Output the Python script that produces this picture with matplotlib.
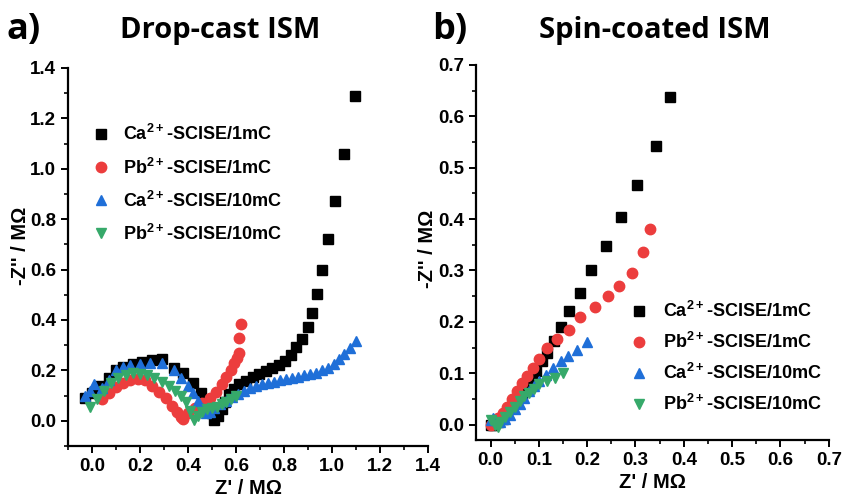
import matplotlib.pyplot as plt
from matplotlib.ticker import MultipleLocator

# panel a: drop-cast ISM
a_ca1_x = [-0.03, 0.0, 0.03, 0.07, 0.10, 0.13, 0.17, 0.21, 0.25, 0.29, 0.34, 0.38, 0.42, 0.455, 0.48, 0.50,
           0.51, 0.525, 0.54, 0.555, 0.572, 0.593, 0.614, 0.641, 0.669, 0.697, 0.724, 0.752, 0.779, 0.803,
           0.828, 0.852, 0.876, 0.898, 0.917, 0.938, 0.960, 0.983, 1.014, 1.052, 1.094]
a_ca1_y = [0.09, 0.11, 0.14, 0.17, 0.20, 0.215, 0.225, 0.235, 0.24, 0.245, 0.21, 0.19, 0.15, 0.11, 0.07, 0.03,
           0.005, 0.02, 0.045, 0.075, 0.105, 0.125, 0.145, 0.158, 0.172, 0.185, 0.196, 0.209, 0.222, 0.238,
           0.262, 0.291, 0.326, 0.371, 0.429, 0.502, 0.600, 0.722, 0.871, 1.057, 1.287]
a_pb1_x = [0.04, 0.07, 0.10, 0.13, 0.16, 0.19, 0.22, 0.25, 0.28, 0.31, 0.335, 0.355, 0.37, 0.38, 0.40, 0.43,
           0.46, 0.49, 0.515, 0.54, 0.56, 0.578, 0.593, 0.605, 0.611, 0.614, 0.62]
a_pb1_y = [0.085, 0.11, 0.135, 0.15, 0.16, 0.165, 0.16, 0.14, 0.115, 0.09, 0.06, 0.035, 0.015, 0.008, 0.03,
           0.05, 0.07, 0.09, 0.115, 0.145, 0.175, 0.20, 0.23, 0.25, 0.27, 0.33, 0.385]
a_ca10_x = [-0.03, -0.01, 0.01, 0.04, 0.07, 0.10, 0.13, 0.16, 0.20, 0.24, 0.29, 0.34, 0.37, 0.40, 0.42, 0.44,
            0.46, 0.475, 0.49, 0.51, 0.535, 0.56, 0.585, 0.61, 0.635, 0.66, 0.685, 0.71, 0.735, 0.76, 0.785,
            0.81, 0.835, 0.86, 0.885, 0.91, 0.935, 0.96, 0.985, 1.01, 1.03, 1.05, 1.075, 1.10]
a_ca10_y = [0.10, 0.12, 0.145, 0.13, 0.16, 0.20, 0.215, 0.22, 0.225, 0.23, 0.23, 0.20, 0.17, 0.14, 0.11, 0.08,
            0.05, 0.03, 0.035, 0.05, 0.065, 0.08, 0.095, 0.105, 0.12, 0.13, 0.14, 0.145, 0.15, 0.155, 0.16,
            0.165, 0.17, 0.175, 0.18, 0.185, 0.19, 0.20, 0.21, 0.225, 0.245, 0.265, 0.29, 0.315]
a_pb10_x = [-0.01, 0.02, 0.05, 0.08, 0.11, 0.14, 0.17, 0.20, 0.23, 0.26, 0.29, 0.32, 0.345, 0.37, 0.39, 0.41,
            0.425, 0.44, 0.46, 0.48, 0.50, 0.52, 0.54, 0.56, 0.58, 0.60]
a_pb10_y = [0.055, 0.085, 0.12, 0.15, 0.17, 0.18, 0.19, 0.185, 0.18, 0.17, 0.155, 0.14, 0.12, 0.10, 0.075,
            0.04, 0.005, 0.02, 0.035, 0.045, 0.05, 0.055, 0.065, 0.075, 0.085, 0.10]

# panel b: spin-coated ISM
b_ca1_x = [0.0, 0.005, 0.015, 0.025, 0.035, 0.045, 0.055, 0.065, 0.075, 0.085, 0.095, 0.107, 0.117, 0.131,
           0.145, 0.163, 0.185, 0.208, 0.239, 0.271, 0.303, 0.342, 0.371]
b_ca1_y = [0.0, 0.0, 0.005, 0.01, 0.02, 0.032, 0.045, 0.06, 0.075, 0.09, 0.105, 0.123, 0.139, 0.162,
           0.19, 0.222, 0.257, 0.301, 0.347, 0.405, 0.467, 0.542, 0.638]
b_pb1_x = [0.0, 0.008, 0.015, 0.025, 0.035, 0.045, 0.055, 0.065, 0.075, 0.087, 0.100, 0.117, 0.138, 0.162,
           0.186, 0.216, 0.243, 0.266, 0.292, 0.316, 0.329]
b_pb1_y = [0.0, 0.005, 0.012, 0.022, 0.035, 0.05, 0.065, 0.08, 0.095, 0.110, 0.128, 0.150, 0.167, 0.185,
           0.209, 0.228, 0.25, 0.27, 0.296, 0.335, 0.381]
b_ca10_x = [0.0, 0.005, 0.01, 0.02, 0.03, 0.04, 0.05, 0.06, 0.07, 0.08, 0.09, 0.10, 0.114, 0.13, 0.145,
            0.16, 0.179, 0.2]
b_ca10_y = [0.008, 0.012, 0.008, 0.005, 0.01, 0.018, 0.03, 0.04, 0.052, 0.065, 0.075, 0.085, 0.097, 0.11,
            0.123, 0.134, 0.146, 0.16]
b_pb10_x = [0.0, 0.01, 0.015, 0.02, 0.03, 0.04, 0.05, 0.06, 0.07, 0.08, 0.09, 0.1, 0.117, 0.134, 0.151]
b_pb10_y = [0.008, 0.0, -0.005, 0.005, 0.015, 0.025, 0.035, 0.045, 0.055, 0.062, 0.07, 0.078, 0.084, 0.091, 0.1]

labels = ['Ca$^{2+}$-SCISE/1mC', 'Pb$^{2+}$-SCISE/1mC', 'Ca$^{2+}$-SCISE/10mC', 'Pb$^{2+}$-SCISE/10mC']
colors = ['black', '#ec3d3d', '#1f6fd8', '#36a96a']
markers = ['s', 'o', '^', 'v']

plt.rcParams['font.family'] = ['Liberation Sans', 'DejaVu Sans']
plt.rcParams['font.weight'] = 'bold'
plt.rcParams['mathtext.default'] = 'regular'

fig = plt.figure(figsize=(8.44, 5.01), dpi=100)
ax1 = fig.add_axes([0.0806, 0.1098, 0.4265, 0.7545])
ax2 = fig.add_axes([0.564, 0.1218, 0.418, 0.7485])

data_a = [(a_ca1_x, a_ca1_y), (a_pb1_x, a_pb1_y), (a_ca10_x, a_ca10_y), (a_pb10_x, a_pb10_y)]
data_b = [(b_ca1_x, b_ca1_y), (b_pb1_x, b_pb1_y), (b_ca10_x, b_ca10_y), (b_pb10_x, b_pb10_y)]

for ax, data in [(ax1, data_a), (ax2, data_b)]:
    for (x, y), c, m, lab in zip(data, colors, markers, labels):
        ax.plot(x, y, linestyle='none', marker=m, color=c, markersize=7.5, label=lab)
    for s in ['top', 'right']:
        ax.spines[s].set_visible(False)
    for s in ['left', 'bottom']:
        ax.spines[s].set_linewidth(1.6)
    ax.tick_params(which='major', direction='out', length=5, width=1.4)
    ax.tick_params(which='minor', direction='out', length=3, width=1.2)

ax1.set_xlim(-0.1, 1.4)
ax1.set_ylim(-0.1, 1.4)
ax1.set_xticks([0.0, 0.2, 0.4, 0.6, 0.8, 1.0, 1.2, 1.4])
ax1.set_yticks([0.0, 0.2, 0.4, 0.6, 0.8, 1.0, 1.2, 1.4])
ax1.xaxis.set_minor_locator(MultipleLocator(0.1))
ax1.yaxis.set_minor_locator(MultipleLocator(0.1))

ax2.set_xlim(-0.03, 0.7)
ax2.set_ylim(-0.03, 0.7)
ax2.set_xticks([0.0, 0.1, 0.2, 0.3, 0.4, 0.5, 0.6, 0.7])
ax2.set_yticks([0.0, 0.1, 0.2, 0.3, 0.4, 0.5, 0.6, 0.7])
ax2.xaxis.set_minor_locator(MultipleLocator(0.05))
ax2.yaxis.set_minor_locator(MultipleLocator(0.05))

for ax in [ax1, ax2]:
    plt.setp(ax.get_xticklabels() + ax.get_yticklabels(), fontweight='bold', fontsize=13.5)
    ax.set_xlabel("Z' / M\u03a9", fontsize=14.5, fontweight='bold', labelpad=3)
    ax.set_ylabel("-Z'' / M\u03a9", fontsize=14.5, fontweight='bold')

ax1.yaxis.set_label_coords(-0.105, 0.53)
ax2.yaxis.set_label_coords(-0.112, 0.51)

ax1.legend(loc='upper left', bbox_to_anchor=(0.02, 0.87), frameon=False, fontsize=13,
           handletextpad=0.25, labelspacing=0.72, borderaxespad=0)
ax2.legend(loc='lower right', bbox_to_anchor=(1.0, 0.05), frameon=False, fontsize=13,
           handletextpad=0.3, labelspacing=0.6, borderaxespad=0)

title_font = ['Open Sans', 'DejaVu Sans']
fig.text(0.008, 0.94, 'a)', fontsize=26, fontweight='bold', family=title_font, va='center')
fig.text(0.261, 0.94, 'Drop-cast ISM', fontsize=21, fontweight='bold', family=title_font,
         va='center', ha='center')
fig.text(0.512, 0.94, 'b)', fontsize=26, fontweight='bold', family=title_font, va='center')
fig.text(0.776, 0.94, 'Spin-coated ISM', fontsize=21, fontweight='bold', family=title_font,
         va='center', ha='center')

fig.savefig('out.png', dpi=100)
